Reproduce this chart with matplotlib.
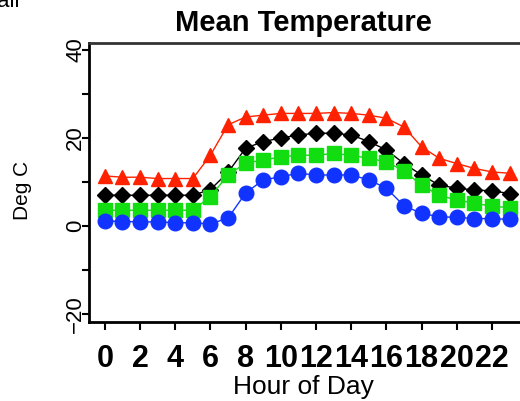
import matplotlib
matplotlib.use("Agg")
import matplotlib.pyplot as plt
from matplotlib.ticker import MultipleLocator

# hourly mean temperatures (deg C), one list per series
hours = list(range(24))
temp_max = [11.4, 11.1, 11.1, 10.8, 10.8, 10.8, 16.1, 23.0, 24.8, 25.2, 25.6, 25.6,
            25.6, 25.8, 25.6, 25.2, 24.5, 22.5, 18.0, 15.4, 14.2, 13.1, 12.3, 12.0]
temp_mean = [7.0, 7.0, 7.0, 7.0, 7.0, 7.0, 8.3, 12.2, 17.7, 19.2, 20.0, 20.7,
             21.1, 21.1, 20.7, 19.2, 17.3, 14.2, 11.6, 9.3, 8.6, 8.2, 8.0, 7.4]
temp_median = [3.6, 3.6, 3.6, 3.6, 3.6, 3.6, 6.7, 11.6, 14.3, 15.0, 15.7, 16.1,
               16.1, 16.5, 16.1, 15.4, 14.6, 12.5, 9.3, 7.0, 5.9, 5.2, 4.5, 4.2]
temp_min = [1.2, 1.0, 1.0, 0.9, 0.8, 0.7, 0.5, 1.8, 7.5, 10.5, 11.2, 12.0,
            11.6, 11.6, 11.6, 10.5, 8.6, 4.6, 2.9, 2.1, 2.0, 1.7, 1.7, 1.5]

xtick_vals = list(range(0, 24, 2))

plt.rcParams['font.family'] = ['Liberation Sans', 'DejaVu Sans']

fig = plt.figure(figsize=(5.2, 4.01), dpi=100)
ax = fig.add_axes([89/520, 79/401, 447/520, 279/401])

series = [
    (temp_max, '#ff2200', '^'),
    (temp_mean, 'black', 'D'),
    (temp_median, '#11dd11', 's'),
    (temp_min, '#1133ff', 'o'),
]
for vals, col, mk in series:
    ms = 8.5 if mk == 'D' else 10.5
    ax.plot(hours, vals, color=col, lw=1, marker=mk, ms=ms,
            markeredgecolor=col, markerfacecolor=col, clip_on=False)

ax.set_xlim(-0.9, 24.5)
ax.set_ylim(-21.8, 41.6)
ax.set_xticks(xtick_vals)
ax.set_yticks([-20, 0, 20, 40])
ax.yaxis.set_minor_locator(MultipleLocator(10))

ax.tick_params(axis='x', direction='out', length=6, width=1.5, pad=10,
               labelsize=22)
for lbl in ax.get_xticklabels():
    lbl.set_fontweight('bold')
ax.tick_params(axis='y', which='both', direction='out', length=5, width=1.5,
               pad=-3, labelsize=16, labelrotation=90)
for lbl in ax.get_yticklabels():
    lbl.set_va('center')

for side in ['left', 'bottom']:
    ax.spines[side].set_linewidth(2)
ax.spines['top'].set_linewidth(2)
ax.spines['top'].set_color('#333333')

ax.set_xlabel("Hour of Day", fontsize=19)
ax.xaxis.set_label_coords((303 - 89) / 447, -0.19)
fig.text(23/520, 1 - 190/401, "Deg C", rotation=90, ha='center', va='center',
         fontsize=15)
fig.text(303/520, 1 - 23/401, "Mean Temperature", ha='center', va='center',
         fontsize=21, fontweight='bold')
fig.text(20/520, 1 - 7/401, "ali", ha='right', va='baseline', fontsize=16)

fig.savefig("out.png", dpi=100)
